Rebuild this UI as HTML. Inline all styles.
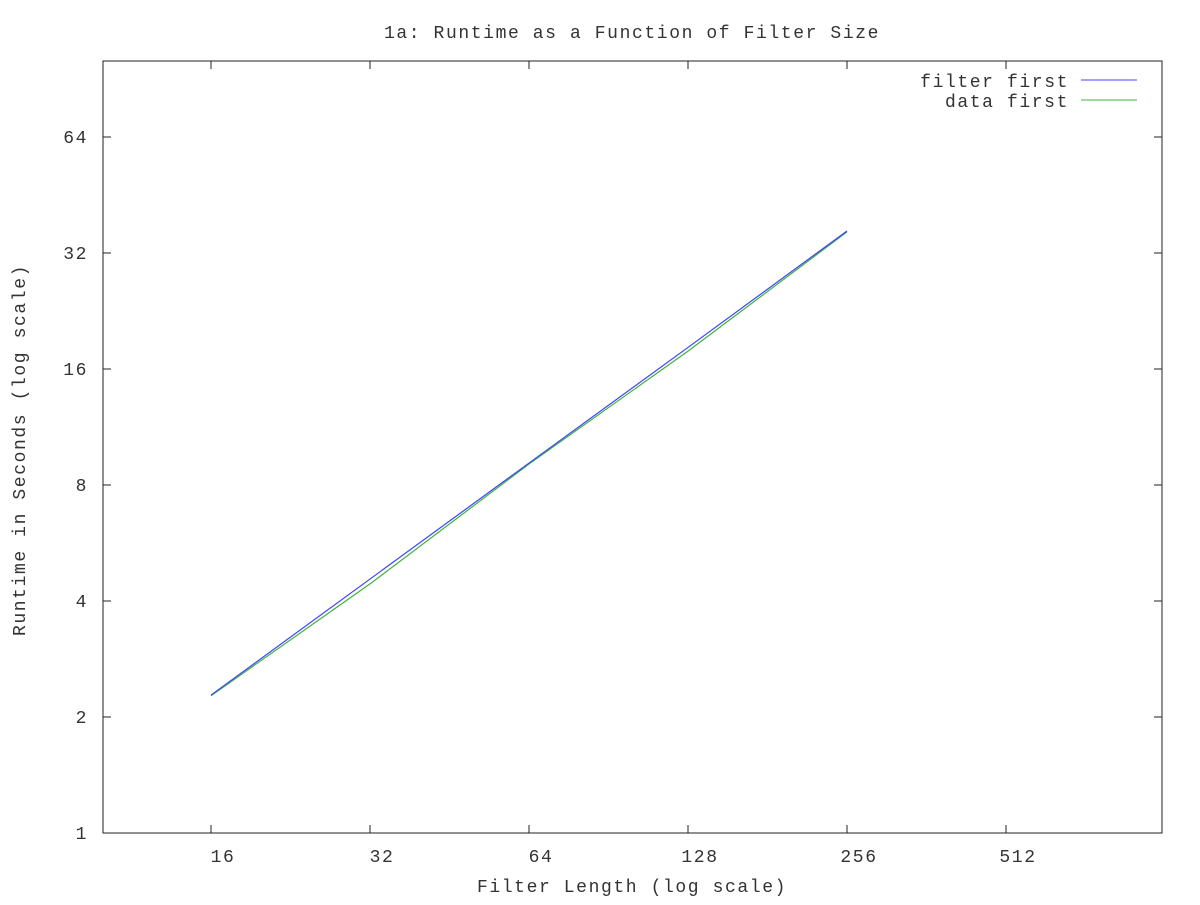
<!DOCTYPE html>
<html><head><meta charset="utf-8"><style>
body{margin:0;background:#fff}
svg text{font-family:"Liberation Mono",monospace;font-size:18px;fill:#333;letter-spacing:1.6px}
</style></head><body>
<svg id="c" width="1200" height="900" xmlns="http://www.w3.org/2000/svg"></svg>
<script>
const xTicks=[16,32,64,128,256,512];
const yTicks=[1,2,4,8,16,32,64];
const xs=[16,32,64,128,256];
const filterFirst=[2.28,4.56,9.12,18.2,36.5];
const dataFirst=[2.27,4.43,9.07,17.8,36.3];
const L=103,R=1162,T=61,B=833;
const xpx=v=>211+159*Math.log2(v/16);
const ypx=v=>833-116*Math.log2(v);
const svg=document.getElementById('c');
const NS='http://www.w3.org/2000/svg';
function mk(tag,attrs,text){const e=document.createElementNS(NS,tag);for(const k in attrs)e.setAttribute(k,attrs[k]);if(text!==undefined)e.textContent=text;svg.appendChild(e);return e;}
let e;
e=mk('rect',{x:L,y:T,width:R-L,height:B-T,fill:'none',stroke:'#222','stroke-width':1});


xTicks.forEach(v=>{const x=xpx(v);
 e=mk('line',{x1:x,y1:B,x2:x,y2:B-8,stroke:'#222'});
 e=mk('line',{x1:x,y1:T,x2:x,y2:T+8,stroke:'#222'});
 e=mk('text',{x:x+12,y:B+29,'text-anchor':'middle'},String(v));
});
yTicks.forEach(v=>{const y=ypx(v);
 e=mk('line',{x1:L,y1:y,x2:L+8,y2:y,stroke:'#222'});
 e=mk('line',{x1:R,y1:y,x2:R-8,y2:y,stroke:'#222'});
 e=mk('text',{x:88,y:y+6,'text-anchor':'end'},String(v));
});
e=mk('text',{x:632,y:38,'text-anchor':'middle'},'1a: Runtime as a Function of Filter Size');

e=mk('text',{x:632,y:892,'text-anchor':'middle'},'Filter Length (log scale)');

e=mk('text',{x:25,y:450,'text-anchor':'middle',transform:'rotate(-90 25 450)'},'Runtime in Seconds (log scale)');

function line(vals,color,name){const pts=xs.map((x,i)=>xpx(x)+','+ypx(vals[i])).join(' ');
 const p=mk('polyline',{points:pts,fill:'none',stroke:color,'stroke-width':1.2});
 }
line(dataFirst,'#3cb43c','data-first-line');
line(filterFirst,'#4040ff','filter-first-line');
e=mk('text',{x:1069,y:87,'text-anchor':'end'},'filter first');
e=mk('line',{x1:1081,y1:80,x2:1137,y2:80,stroke:'#4040ff'});
e=mk('text',{x:1069,y:107,'text-anchor':'end'},'data first');
e=mk('line',{x1:1081,y1:100,x2:1137,y2:100,stroke:'#3cb43c'});
</script>
</body></html>
